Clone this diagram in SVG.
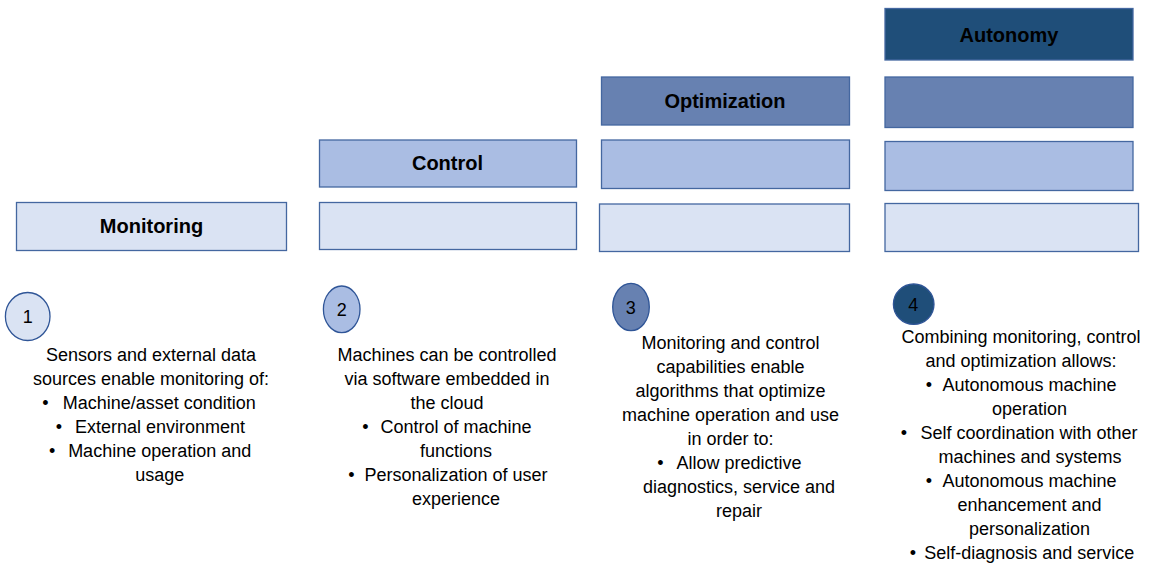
<svg xmlns="http://www.w3.org/2000/svg" width="1149" height="564" viewBox="0 0 1149 564">
<style>
.box{stroke:#4467A0;stroke-width:1.3}
.l1{fill:#DAE3F3}
.l2{fill:#AABDE3}
.l3{fill:#6781B1}
.l4{fill:#1F4E79}
.h{font-family:"Liberation Sans",Arial,sans-serif;font-size:20px;font-weight:bold;fill:#000;text-anchor:middle}
.t{font-family:"Liberation Sans",Arial,sans-serif;font-size:18px;fill:#000;text-anchor:middle}
.b{font-family:"Liberation Sans",Arial,sans-serif;font-size:18px;fill:#000;text-anchor:start}
.c{stroke:#2F5597;stroke-width:1.3}
</style>
<rect width="1149" height="564" fill="#FFFFFF"/>
<g id="monitoring-stack">
<rect class="box l1" x="16.5" y="202.5" width="270" height="48"/>
<text class="h" x="151.5" y="233">Monitoring</text>
</g>
<g id="control-stack">
<rect class="box l2" x="319.5" y="140" width="257" height="47"/>
<text class="h" x="447.5" y="170">Control</text>
<rect class="box l1" x="319.5" y="202.5" width="257" height="47"/>
</g>
<g id="optimization-stack">
<rect class="box l3" x="601.5" y="77" width="248" height="48"/>
<text class="h" x="725" y="108">Optimization</text>
<rect class="box l2" x="601.5" y="140" width="248" height="48.5"/>
<rect class="box l1" x="599.5" y="204" width="250" height="47.5"/>
</g>
<g id="autonomy-stack">
<rect class="box l4" x="885" y="8.5" width="248" height="51.5"/>
<text class="h" x="1009" y="42">Autonomy</text>
<rect class="box l3" x="885" y="77" width="248" height="50.5"/>
<rect class="box l2" x="885" y="141.5" width="248" height="49"/>
<rect class="box l1" x="885" y="203.5" width="253.5" height="48"/>
</g>
<g id="connectors"></g>
<g id="step1">
<ellipse class="c l1" cx="27.7" cy="316.5" rx="22.3" ry="24"/>
<text class="t" x="27.7" y="323">1</text>
<text class="t" x="151" y="361">Sensors and external data</text>
<text class="t" x="151" y="385">sources enable monitoring of:</text>
<text class="b" x="42.3" y="409">•</text><text class="t" x="159.3" y="409">Machine/asset condition</text>
<text class="b" x="55.7" y="433">•</text><text class="t" x="160" y="433">External environment</text>
<text class="b" x="49" y="457">•</text><text class="t" x="159.7" y="457">Machine operation and</text>
<text class="t" x="159.7" y="481">usage</text>
</g>
<g id="step2">
<ellipse class="c l2" cx="341.7" cy="309.3" rx="18.3" ry="23.3"/>
<text class="t" x="341.7" y="315.5">2</text>
<text class="t" x="447" y="361">Machines can be controlled</text>
<text class="t" x="447" y="385">via software embedded in</text>
<text class="t" x="447" y="409">the cloud</text>
<text class="b" x="362.3" y="433">•</text><text class="t" x="456" y="433">Control of machine</text>
<text class="t" x="456" y="457">functions</text>
<text class="b" x="348.3" y="481">•</text><text class="t" x="456" y="481">Personalization of user</text>
<text class="t" x="456" y="505">experience</text>
</g>
<g id="step3">
<ellipse class="c l3" cx="631" cy="307" rx="18.3" ry="23.7"/>
<text class="t" x="630.7" y="313.5">3</text>
<text class="t" x="730.5" y="349">Monitoring and control</text>
<text class="t" x="730.5" y="373">capabilities enable</text>
<text class="t" x="730.5" y="397">algorithms that optimize</text>
<text class="t" x="730.5" y="421">machine operation and use</text>
<text class="t" x="730.5" y="445">in order to:</text>
<text class="b" x="657.3" y="469">•</text><text class="t" x="739" y="469">Allow predictive</text>
<text class="t" x="739" y="493">diagnostics, service and</text>
<text class="t" x="739" y="517">repair</text>
</g>
<g id="step4">
<ellipse class="c l4" cx="913.7" cy="304.2" rx="20.3" ry="20.2"/>
<text class="t" x="913.3" y="310.5">4</text>
<text class="t" x="1021" y="343">Combining monitoring, control</text>
<text class="t" x="1021" y="367">and optimization allows:</text>
<text class="b" x="925.7" y="391">•</text><text class="t" x="1029.5" y="391">Autonomous machine</text>
<text class="t" x="1029.5" y="415">operation</text>
<text class="b" x="900.7" y="439">•</text><text class="t" x="1029" y="439">Self coordination with other</text>
<text class="t" x="1030" y="463">machines and systems</text>
<text class="b" x="925.7" y="487">•</text><text class="t" x="1029.5" y="487">Autonomous machine</text>
<text class="t" x="1029.5" y="511">enhancement and</text>
<text class="t" x="1029.5" y="535">personalization</text>
<text class="b" x="909.7" y="559">•</text><text class="t" x="1029.2" y="559">Self-diagnosis and service</text>
</g>
</svg>
